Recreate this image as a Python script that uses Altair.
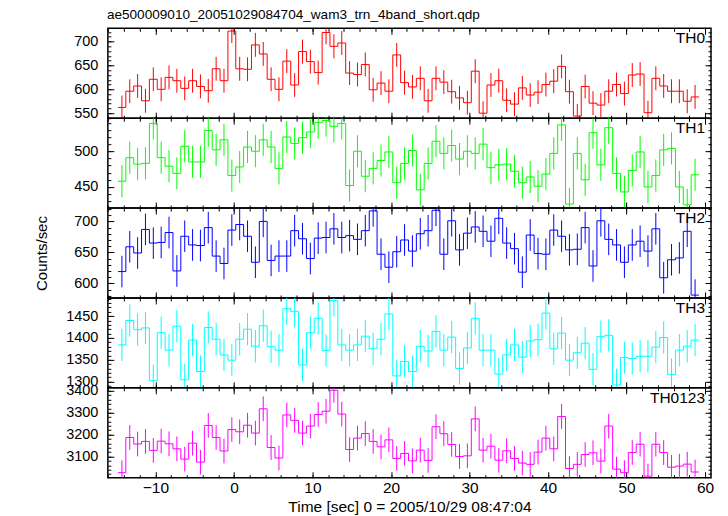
import altair as alt
import pandas as pd

FONT = "Liberation Sans"
TITLE = "ae500009010_20051029084704_wam3_trn_4band_short.qdp"
X_TITLE = "Time [sec] 0 = 2005/10/29 08:47:04"
Y_TITLE = "Counts/sec"

BIN_START = -14.77
BIN_WIDTH = 1.0
X_DOMAIN = [-16.06, 60.76]
X_MAJOR = [-10, 0, 10, 20, 30, 40, 50, 60]
X_MINOR = list(range(-16, 61, 2))

PANELS = ["TH0", "TH1", "TH2", "TH3", "TH0123"]
COLORS = ["#ff0000", "#00ff00", "#0000ff", "#00ffff", "#ff00ff"]

TH0 = [562, 596, 607, 576, 621, 600, 625, 618, 602, 618, 606, 597, 643, 618, 722, 643, 642, 693, 674, 621,
       600, 659, 609, 679, 658, 635, 719, 690, 697, 634, 631, 652, 599, 613, 596, 672, 614, 605, 623, 576,
       623, 615, 595, 582, 572, 638, 550, 609, 618, 577, 569, 603, 588, 594, 610, 617, 648, 595, 544, 606,
       571, 567, 596, 610, 591, 630, 632, 551, 623, 607, 596, 596, 575, 584]
TH1 = [458, 491, 482, 483, 539, 491, 479, 469, 507, 485, 485, 529, 502, 516, 466, 478, 506, 500, 516, 506,
       476, 520, 511, 519, 527, 540, 543, 535, 539, 452, 500, 465, 476, 487, 499, 456, 483, 501, 446, 483,
       514, 497, 508, 489, 500, 497, 510, 477, 481, 482, 472, 456, 464, 451, 468, 497, 537, 426, 497, 460,
       526, 481, 533, 469, 443, 473, 499, 450, 466, 502, 504, 450, 425, 467]
TH2 = [619, 659, 649, 687, 665, 666, 682, 620, 676, 662, 661, 690, 644, 632, 686, 695, 676, 634, 700, 637,
       644, 644, 685, 672, 640, 673, 674, 688, 674, 677, 671, 685, 717, 647, 626, 651, 670, 652, 680, 685,
       718, 647, 701, 654, 681, 691, 684, 668, 705, 665, 656, 618, 678, 648, 647, 686, 676, 654, 655, 690,
       628, 701, 671, 662, 634, 662, 668, 652, 688, 609, 638, 641, 684, 581]
TH3 = [1384, 1440, 1419, 1423, 1302, 1412, 1372, 1427, 1304, 1395, 1323, 1424, 1397, 1361, 1349, 1397, 1420, 1381, 1428, 1380,
       1372, 1467, 1461, 1338, 1412, 1445, 1371, 1486, 1384, 1372, 1384, 1404, 1375, 1397, 1455, 1313, 1346, 1323, 1381, 1370,
       1415, 1372, 1402, 1330, 1377, 1445, 1372, 1372, 1317, 1361, 1384, 1356, 1393, 1396, 1457, 1375, 1411, 1349, 1366, 1388,
       1328, 1403, 1406, 1292, 1355, 1353, 1358, 1358, 1379, 1401, 1316, 1372, 1381, 1395]
TH0123 = [3026, 3187, 3157, 3169, 3128, 3170, 3158, 3135, 3088, 3161, 3074, 3242, 3187, 3125, 3223, 3213, 3243, 3207, 3318, 3141,
          3093, 3290, 3265, 3207, 3239, 3292, 3307, 3403, 3294, 3132, 3184, 3205, 3169, 3144, 3176, 3091, 3114, 3080, 3129, 3082,
          3236, 3204, 3155, 3100, 3103, 3272, 3129, 3147, 3083, 3126, 3091, 3070, 3064, 3120, 3184, 3135, 3283, 3045, 3064, 3109,
          3117, 3079, 3239, 3042, 3026, 3118, 3156, 3010, 3156, 3118, 3051, 3056, 3065, 3029]
SERIES = [TH0, TH1, TH2, TH3, TH0123]
ERRORS = [25, 22.5, 25.5, 37, 56.5]

Y_DOMAINS = [[539.5, 727.7], [420.4, 546.3], [576.4, 721.5], [1285.6, 1491.7], [3003, 3414]]
Y_MAJOR = [[550, 600, 650, 700], [450, 500], [600, 650, 700], [1300, 1350, 1400, 1450], [3100, 3200, 3300, 3400]]
Y_MINOR = [list(range(540, 730, 10)), list(range(430, 550, 10)), list(range(580, 730, 10)),
           list(range(1290, 1500, 10)), list(range(3020, 3420, 20))]

W, H = 604, 90
MAJ, MIN = 6, 3


def ax(orient, values, size, labels=False, title=None, **kw):
    return alt.Axis(orient=orient, values=values, tickSize=size, offset=-size, labels=labels,
                    domain=False, grid=False, ticks=True, tickColor="black", tickWidth=1,
                    title=title, **kw)


def make_panel(k):
    vals = SERIES[k]
    err = ERRORS[k]
    n = len(vals)
    left = [BIN_START + i * BIN_WIDTH for i in range(n)]
    step_df = pd.DataFrame({"t": left + [left[-1] + BIN_WIDTH], "v": vals + [vals[-1]]})
    err_df = pd.DataFrame({"t": [x + BIN_WIDTH / 2 for x in left],
                           "lo": [v - err for v in vals], "hi": [v + err for v in vals]})
    xs = alt.Scale(domain=X_DOMAIN, nice=False, zero=False)
    ys = alt.Scale(domain=Y_DOMAINS[k], nice=False, zero=False)
    last = k == len(PANELS) - 1
    mid = k == 2

    xlab = dict(labelFont=FONT, labelFontSize=15.5, labelColor="black", labelPadding=3,
                labelFlush=False, labelOverlap=False, format="d",
                titleFont=FONT, titleFontSize=15.5, titleFontWeight="normal", titleColor="black",
                titlePadding=3) if last else {}
    ylab = dict(labelFont=FONT, labelFontSize=14.5, labelColor="black", labelPadding=10,
                labelOverlap=False, format="d",
                titleFont=FONT, titleFontSize=15, titleFontWeight="normal", titleColor="black",
                titlePadding=24)

    x_bot = ax("bottom", X_MAJOR, MAJ, labels=last, title=X_TITLE if last else None, **xlab)
    y_left = ax("left", Y_MAJOR[k], MAJ, labels=True, title=Y_TITLE if mid else None, **ylab)

    step = alt.Chart(step_df).mark_line(interpolate="step-after", color=COLORS[k], strokeWidth=1,
                                        clip=True).encode(
        x=alt.X("t:Q", scale=xs, axis=x_bot),
        y=alt.Y("v:Q", scale=ys, axis=y_left),
    )
    errs = alt.Chart(err_df).mark_rule(color=COLORS[k], strokeWidth=1, clip=True).encode(
        x=alt.X("t:Q", scale=xs, axis=ax("bottom", X_MINOR, MIN)),
        y=alt.Y("lo:Q", scale=ys, axis=ax("left", Y_MINOR[k], MIN)),
        y2="hi:Q",
    )
    top_major = alt.Chart(err_df).mark_rule(opacity=0, clip=True).encode(
        x=alt.X("t:Q", scale=xs, axis=ax("top", X_MAJOR, MAJ)),
        y=alt.Y("lo:Q", scale=ys, axis=ax("right", Y_MAJOR[k], MAJ)),
    )
    top_minor = alt.Chart(err_df).mark_rule(opacity=0, clip=True).encode(
        x=alt.X("t:Q", scale=xs, axis=ax("top", X_MINOR, MIN)),
        y=alt.Y("lo:Q", scale=ys, axis=ax("right", Y_MINOR[k], MIN)),
    )
    label = alt.Chart(pd.DataFrame({"name": [PANELS[k]]})).mark_text(
        align="right", baseline="top", font=FONT, fontSize=15.5, color="black"
    ).encode(x=alt.value(W - 6), y=alt.value(3), text="name:N")

    return alt.layer(step, errs, top_major, top_minor, label).resolve_axis(
        x="independent", y="independent"
    ).properties(width=W, height=H)


chart = alt.vconcat(*[make_panel(k) for k in range(len(PANELS))], spacing=0, bounds="flush").properties(
    title=alt.TitleParams(text=TITLE, anchor="start", font=FONT, fontSize=13.6, fontWeight="normal",
                          color="black", offset=5, dx=73),
    padding={"left": 26, "top": 0, "right": 5, "bottom": 0},
).configure_view(stroke="black", strokeWidth=1.5)

chart.save("out.html", embed_options={"renderer": "svg", "actions": False})
